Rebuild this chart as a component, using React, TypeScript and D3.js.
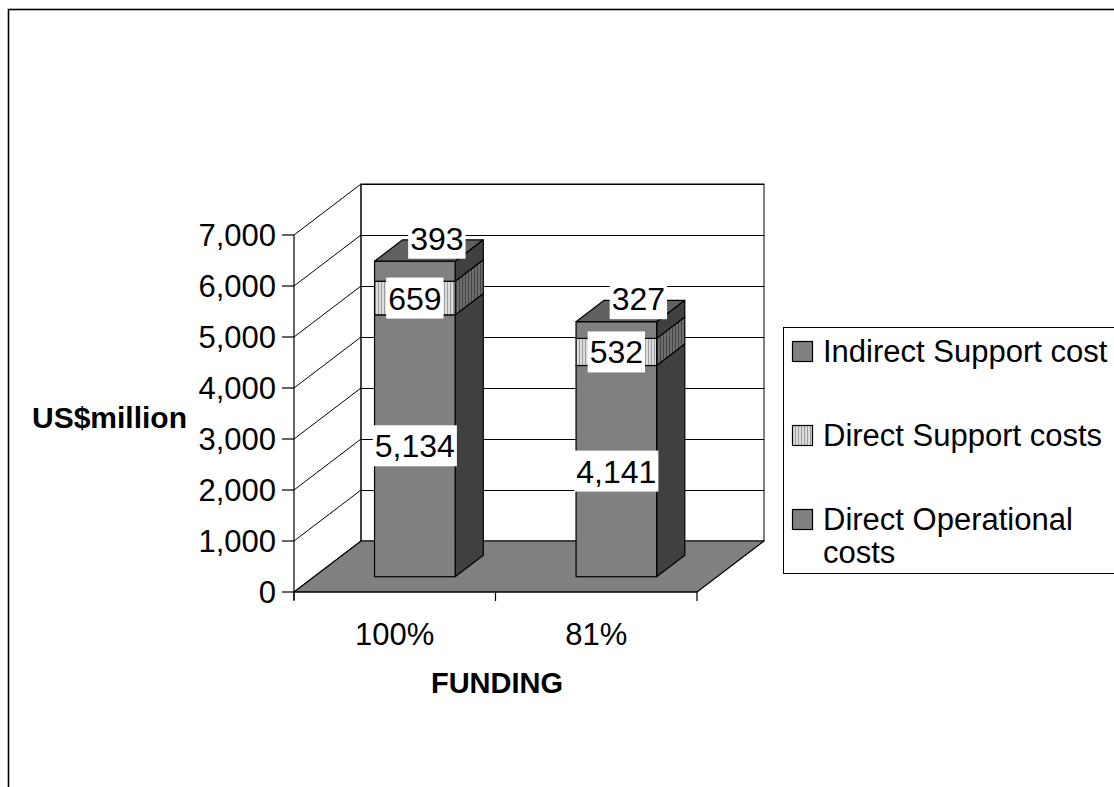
import React from 'react';
import * as d3 from 'd3';

// Funding scenarios and cost components (US$ million)
const categories = ['100%', '81%'];
const directOperational = [5134, 4141];
const directSupport = [659, 532];
const indirectSupport = [393, 327];
const seriesKeys = ['directOperational', 'directSupport', 'indirectSupport'];
const legendLabels = [
  { key: 'indirectSupport', lines: ['Indirect Support cost'] },
  { key: 'directSupport', lines: ['Direct Support costs'] },
  { key: 'directOperational', lines: ['Direct Operational', 'costs'] },
];
const yTickValues = [0, 1000, 2000, 3000, 4000, 5000, 6000, 7000];
const yTitle = 'US$million';
const xTitle = 'FUNDING';

const W = 1114;
const H = 787;
const FONT = "'Liberation Sans', Arial, Helvetica, sans-serif";

// 3D box geometry
const plotLeft = 294;
const plotRight = 697;
const plotBottom = 592;
const plotTop = 235;
const depthX = 67;
const depthY = -51;
const barOffsetFrac = 0.3;
const barDepthFrac = 0.42;

const faceFill: Record<string, { front: string; side: string }> = {
  directOperational: { front: '#808080', side: '#404040' },
  directSupport: { front: 'url(#stripeLight)', side: 'url(#stripeDark)' },
  indirectSupport: { front: '#808080', side: '#404040' },
};

const rows = categories.map((c, i) => ({
  category: c,
  directOperational: directOperational[i],
  directSupport: directSupport[i],
  indirectSupport: indirectSupport[i],
}));

function measure(text: string, size: number, weight = 'normal') {
  if (typeof document === 'undefined') return text.length * size * 0.55;
  const canvas = (measure as any).c || ((measure as any).c = document.createElement('canvas'));
  const ctx = canvas.getContext('2d');
  ctx.font = `${weight} ${size}px ${FONT}`;
  return ctx.measureText(text).width;
}

export default function App() {
  const y = d3.scaleLinear().domain([0, 7000]).range([plotBottom, plotTop]);
  const x = d3.scaleBand<string>().domain(categories).range([plotLeft, plotRight]);
  const bw = x.bandwidth();
  const barW = bw * 0.4;
  const fdx = depthX * barOffsetFrac;
  const fdy = depthY * barOffsetFrac;
  const bdx = depthX * barDepthFrac;
  const bdy = depthY * barDepthFrac;

  const stack = d3.stack<any>().keys(seriesKeys);
  const stacked = stack(rows);

  const backLeft = plotLeft + depthX;
  const backRight = plotRight + depthX;
  const backBottom = plotBottom + depthY;
  const backTop = plotTop + depthY;

  const fmt = d3.format(',');
  const valueFont = 32;

  const bars: React.ReactNode[] = [];
  const labels: React.ReactNode[] = [];

  categories.forEach((cat, ci) => {
    const bx = (x(cat) as number) + bw / 2 - barW / 2 + fdx;
    stacked.forEach((layer, li) => {
      const [v0, v1] = layer[ci];
      const yb = y(v0) + fdy;
      const yt = y(v1) + fdy;
      const key = layer.key;
      const isTop = li === stacked.length - 1;
      bars.push(
        <g key={`${cat}-${key}`}>
          <polygon
            points={`${bx + barW},${yt} ${bx + barW + bdx},${yt + bdy} ${bx + barW + bdx},${yb + bdy} ${bx + barW},${yb}`}
            fill={faceFill[key].side}
            stroke="#000"
            strokeWidth={1.2}
            strokeLinejoin="round"
          />
          <rect x={bx} y={yt} width={barW} height={yb - yt} fill={faceFill[key].front} stroke="#000" strokeWidth={1.2} />
          {isTop && (
            <polygon
              points={`${bx},${yt} ${bx + barW},${yt} ${bx + barW + bdx},${yt + bdy} ${bx + bdx},${yt + bdy}`}
              fill="#606060"
              stroke="#000"
              strokeWidth={1.2}
              strokeLinejoin="round"
            />
          )}
        </g>
      );
      const value = v1 - v0;
      const text = fmt(value);
      const tw = measure(text, valueFont);
      const cx = isTop ? bx + barW / 2 + 22 : bx + barW / 2;
      const cy = isTop ? yt - 23 : (yt + yb) / 2;
      labels.push(
        <g key={`lbl-${cat}-${key}`}>
          <rect x={cx - tw / 2 - 2} y={cy - 20.5} width={tw + 4} height={41} fill="#fff" />
          <text x={cx} y={cy} dy="0.36em" textAnchor="middle" fontSize={valueFont} fontFamily={FONT} fill="#000">
            {text}
          </text>
        </g>
      );
    });
  });

  const legendX = 783;
  const legendY = 327;
  const legendBaselines = [362, 446, 530];

  return (
    <svg
      width={W}
      height={H}
      viewBox={`0 0 ${W} ${H}`}
      style={{ position: 'fixed', left: 0, top: 0, background: '#fff' }}
    >
      <defs>
        <pattern id="stripeLight" patternUnits="userSpaceOnUse" width={3} height={6}>
          <rect width={3} height={6} fill="#dcdcdc" />
          <rect width={1} height={6} fill="#9c9c9c" />
        </pattern>
        <pattern id="stripeDark" patternUnits="userSpaceOnUse" width={3} height={6}>
          <rect width={3} height={6} fill="#6e6e6e" />
          <rect width={1} height={6} fill="#444444" />
        </pattern>
      </defs>

      {/* outer chart frame */}
      <rect x={8.5} y={9.5} width={1300} height={1000} fill="#fff" stroke="#000" strokeWidth={1.6} />

      {/* back wall */}
      <rect x={backLeft} y={backTop} width={backRight - backLeft} height={backBottom - backTop} fill="#fff" stroke="#000" strokeWidth={1} />
      {yTickValues.map((v) => (
        <line key={`g-${v}`} x1={backLeft} x2={backRight} y1={y(v) + depthY} y2={y(v) + depthY} stroke="#000" strokeWidth={1} shapeRendering="crispEdges" />
      ))}
      {/* side wall */}
      {yTickValues.map((v) => (
        <line key={`s-${v}`} x1={plotLeft} y1={y(v)} x2={backLeft} y2={y(v) + depthY} stroke="#000" strokeWidth={1} />
      ))}
      <line x1={backLeft} x2={backLeft} y1={backTop} y2={backBottom} stroke="#000" strokeWidth={1} />

      {/* floor */}
      <polygon
        points={`${plotLeft},${plotBottom} ${plotRight},${plotBottom} ${backRight},${backBottom} ${backLeft},${backBottom}`}
        fill="#808080"
        stroke="#000"
        strokeWidth={1.2}
        strokeLinejoin="round"
      />

      {/* value axis */}
      <line x1={plotLeft} x2={plotLeft} y1={plotTop} y2={plotBottom + 8} stroke="#000" strokeWidth={1.2} />
      {yTickValues.map((v) => (
        <g key={`t-${v}`}>
          <line x1={plotLeft - 12} x2={plotLeft} y1={y(v)} y2={y(v)} stroke="#000" strokeWidth={1.2} />
          <text x={276} y={y(v)} dy="0.36em" textAnchor="end" fontSize={31} fontFamily={FONT} fill="#000">
            {fmt(v)}
          </text>
        </g>
      ))}

      {/* category axis */}
      <line x1={plotLeft} x2={plotRight} y1={plotBottom} y2={plotBottom} stroke="#000" strokeWidth={1.2} />
      {[...categories.map((c) => x(c) as number), plotRight].map((px, i) => (
        <line key={`ct-${i}`} x1={px} x2={px} y1={plotBottom} y2={plotBottom + 9} stroke="#000" strokeWidth={1.2} />
      ))}
      {categories.map((c) => (
        <text key={`cl-${c}`} x={(x(c) as number) + bw / 2} y={634} dy="0.36em" textAnchor="middle" fontSize={31} fontFamily={FONT} fill="#000">
          {c}
        </text>
      ))}

      {bars}
      {labels}

      {/* axis titles */}
      <text x={32} y={417} dy="0.36em" fontSize={30} fontWeight="bold" fontFamily={FONT} fill="#000">
        {yTitle}
      </text>
      <text x={497} y={683} dy="0.36em" textAnchor="middle" fontSize={29} fontWeight="bold" fontFamily={FONT} fill="#000">
        {xTitle}
      </text>

      {/* legend */}
      <rect x={legendX + 0.5} y={legendY + 0.5} width={400} height={246} fill="#fff" stroke="#000" strokeWidth={1} />
      {legendLabels.map((item, i) => {
        const base = legendBaselines[i];
        return (
          <g key={`lg-${item.key}`}>
            <rect x={792.5} y={base - 20.5} width={20} height={20} fill={faceFill[item.key].front} stroke="#000" strokeWidth={1.2} />
            <text x={823} y={base} fontSize={31} fontFamily={FONT} fill="#000">
              {item.lines.map((ln, j) => (
                <tspan key={j} x={823} dy={j === 0 ? 0 : 33}>
                  {ln}
                </tspan>
              ))}
            </text>
          </g>
        );
      })}
    </svg>
  );
}
